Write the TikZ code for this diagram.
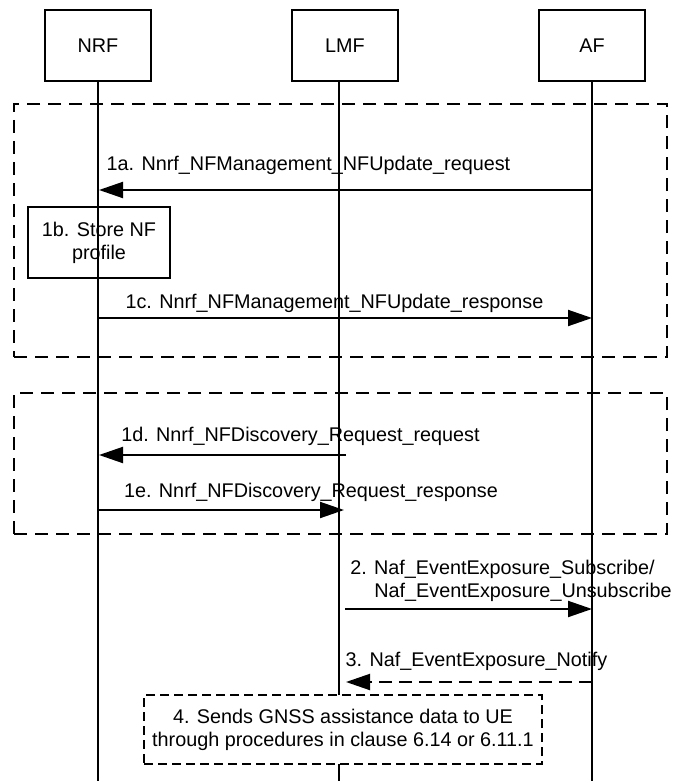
\documentclass[tikz,border=0pt]{standalone}
\usepackage{fontspec}
\setmainfont{Liberation Sans}
\usetikzlibrary{arrows.meta}
\begin{document}
\begin{tikzpicture}[x=1pt,y=-1pt,
  font=\fontsize{19.8}{23}\selectfont,
  entity/.style={draw, line width=1.5pt, minimum width=106pt, minimum height=71pt, inner sep=0pt},
  life/.style={line width=2pt},
  frame/.style={draw, line width=1.5pt, dash pattern=on 13pt off 8pt, inner sep=0pt},
  stepbox/.style={draw, line width=1.5pt, align=center, inner sep=0pt},
  notebox/.style={draw, fill=white, line width=1.3pt, dash pattern=on 9pt off 5pt, align=center, inner sep=0pt},
  msg/.style={line width=2pt, -{Triangle[length=24pt,width=16pt]}},
  dmsg/.style={msg, dash pattern=on 13pt off 7pt},
  lbl/.style={anchor=base, inner sep=0pt}]
\useasboundingbox (0,0) rectangle (673,781);
% entities
\node[entity] (nrf) at (98,45.5) {NRF};
\node[entity] (lmf) at (345,45.5) {LMF};
\node[entity] (af) at (592,45.5) {AF};
\coordinate (lmftop) at (339,81);
\coordinate (nrfbot) at (98,781);
\coordinate (lmfbot) at (339,781);
\coordinate (afbot) at (592,781);
\draw[life] (nrf.south) -- (nrfbot);
\draw[life] (lmftop) -- (lmfbot);
\draw[life] (af.south) -- (afbot);
% group frames
\node[frame, minimum width=653pt, minimum height=253pt] (g1) at (340.5,230.5) {};
\node[frame, minimum width=653pt, minimum height=141pt] (g2) at (340.5,463.5) {};
% 1a
\coordinate (a1s) at (592,190); \coordinate (a1e) at (99,190);
\draw[msg] (a1s) -- (a1e);
\node[lbl] (l1a) at (308.5,170) {1a. Nnrf\_NFManagement\_NFUpdate\_request};
% 1b
\node[stepbox, minimum width=142pt, minimum height=71pt] (s1b) at (99,242.5) {1b. Store NF\\profile};
% 1c
\coordinate (c1s) at (99,318); \coordinate (c1e) at (592,318);
\draw[msg] (c1s) -- (c1e);
\node[lbl] (l1c) at (334.5,308) {1c. Nnrf\_NFManagement\_NFUpdate\_response};
% 1d
\coordinate (d1s) at (346,455); \coordinate (d1e) at (99,455);
\draw[msg] (d1s) -- (d1e);
\node[lbl] (l1d) at (300.5,441) {1d. Nnrf\_NFDiscovery\_Request\_request};
% 1e
\coordinate (e1s) at (99,510); \coordinate (e1e) at (344,510);
\draw[msg] (e1s) -- (e1e);
\node[lbl] (l1e) at (311,497) {1e. Nnrf\_NFDiscovery\_Request\_response};
% 2
\coordinate (m2s) at (345,609); \coordinate (m2e) at (592,609);
\draw[msg] (m2s) -- (m2e);
\node[lbl] (l2a) at (502.5,574) {2. Naf\_EventExposure\_Subscribe/};
\node[lbl] (l2b) at (523,597) {Naf\_EventExposure\_Unsubscribe};
% 3
\coordinate (m3s) at (592,682); \coordinate (m3e) at (346,682);
\draw[dmsg] (m3s) -- (m3e);
\node[lbl] (l3) at (476.5,666) {3. Naf\_EventExposure\_Notify};
% 4
\node[notebox, minimum width=398pt, minimum height=69pt] (s4) at (343,729.5) {4. Sends GNSS assistance data to UE\\through procedures in clause 6.14 or 6.11.1};
\end{tikzpicture}
\end{document}
